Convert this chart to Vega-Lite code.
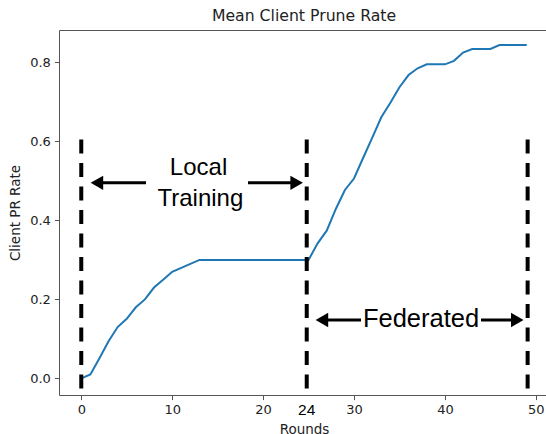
{
  "$schema": "https://vega.github.io/schema/vega-lite/v6.json",
  "width": 490,
  "height": 365,
  "autosize": "none",
  "padding": {"left": 59, "top": 30, "right": 0, "bottom": 39},
  "config": {
    "view": {"stroke": "#555", "strokeWidth": 1},
    "font": "DejaVu Sans",
    "axis": {
      "domain": false,
      "grid": false,
      "tickColor": "#555",
      "tickSize": 4.6,
      "labelPadding": 4,
      "labelFont": "DejaVu Sans",
      "labelFontSize": 13,
      "labelColor": "#222",
      "titleFont": "DejaVu Sans",
      "titleFontSize": 13.5,
      "titleFontWeight": "normal",
      "titleColor": "#222"
    }
  },
  "title": {
    "text": "Mean Client Prune Rate",
    "font": "DejaVu Sans",
    "fontSize": 15.7,
    "fontWeight": "normal",
    "color": "#222",
    "baseline": "bottom",
    "offset": 6,
    "dy": 16,
    "frame": "group",
    "anchor": "middle"
  },
  "datasets": {
    "series": [
      {"round": 0, "rate": 0.0}, {"round": 1, "rate": 0.01}, {"round": 2, "rate": 0.051},
      {"round": 3, "rate": 0.094}, {"round": 4, "rate": 0.13}, {"round": 5, "rate": 0.151},
      {"round": 6, "rate": 0.18}, {"round": 7, "rate": 0.2}, {"round": 8, "rate": 0.23},
      {"round": 9, "rate": 0.25}, {"round": 10, "rate": 0.27}, {"round": 11, "rate": 0.28},
      {"round": 12, "rate": 0.29}, {"round": 13, "rate": 0.3}, {"round": 14, "rate": 0.3},
      {"round": 15, "rate": 0.3}, {"round": 16, "rate": 0.3}, {"round": 17, "rate": 0.3},
      {"round": 18, "rate": 0.3}, {"round": 19, "rate": 0.3}, {"round": 20, "rate": 0.3},
      {"round": 21, "rate": 0.3}, {"round": 22, "rate": 0.3}, {"round": 23, "rate": 0.3},
      {"round": 24, "rate": 0.3}, {"round": 25, "rate": 0.3}, {"round": 26, "rate": 0.342},
      {"round": 27, "rate": 0.374}, {"round": 28, "rate": 0.429}, {"round": 29, "rate": 0.477},
      {"round": 30, "rate": 0.506}, {"round": 31, "rate": 0.558}, {"round": 32, "rate": 0.609},
      {"round": 33, "rate": 0.661}, {"round": 34, "rate": 0.698}, {"round": 35, "rate": 0.737},
      {"round": 36, "rate": 0.768}, {"round": 37, "rate": 0.785}, {"round": 38, "rate": 0.795},
      {"round": 39, "rate": 0.795}, {"round": 40, "rate": 0.795}, {"round": 41, "rate": 0.804},
      {"round": 42, "rate": 0.825}, {"round": 43, "rate": 0.834}, {"round": 44, "rate": 0.834},
      {"round": 45, "rate": 0.834}, {"round": 46, "rate": 0.844}, {"round": 47, "rate": 0.844},
      {"round": 48, "rate": 0.844}, {"round": 49, "rate": 0.844}
    ],
    "dividers": [
      {"round": 0, "top": 0.605, "bottom": -0.042},
      {"round": 24.8, "top": 0.605, "bottom": -0.042},
      {"round": 49.1, "top": 0.605, "bottom": -0.042}
    ],
    "shafts": [
      {"from": 1.72, "to": 7.12, "level": 0.495},
      {"from": 18.34, "to": 23.69, "level": 0.495},
      {"from": 26.47, "to": 30.77, "level": 0.148},
      {"from": 43.97, "to": 47.96, "level": 0.148}
    ],
    "heads": [
      {"round": 1.72, "level": 0.495, "dir": "triangle-left"},
      {"round": 23.69, "level": 0.495, "dir": "triangle-right"},
      {"round": 26.47, "level": 0.148, "dir": "triangle-left"},
      {"round": 47.96, "level": 0.148, "dir": "triangle-right"}
    ],
    "labels": [
      {"round": 12.9, "level": 0.515, "label": "Local", "size": 24},
      {"round": 13.1, "level": 0.436, "label": "Training", "size": 24},
      {"round": 37.37, "level": 0.13, "label": "Federated", "size": 25.5}
    ],
    "mark24": [
      {"round": 24.8, "level": -0.081, "label": "24"}
    ]
  },
  "layer": [
    {
      "data": {"name": "series"},
      "mark": {"type": "line", "color": "#1f77b4", "strokeWidth": 2},
      "encoding": {
        "x": {
          "field": "round", "type": "quantitative",
          "scale": {"domain": [-2.45, 51.45], "nice": false, "zero": false},
          "axis": {"values": [0, 10, 20, 30, 40, 50], "title": "Rounds", "titlePadding": 6, "labelFlush": false}
        },
        "y": {
          "field": "rate", "type": "quantitative",
          "scale": {"domain": [-0.042, 0.882], "nice": false, "zero": false},
          "axis": {"values": [0, 0.2, 0.4, 0.6, 0.8], "format": ".1f", "title": "Client PR Rate", "titlePadding": 7, "labelFlush": false}
        }
      }
    },
    {
      "data": {"name": "dividers"},
      "mark": {"type": "rule", "color": "black", "strokeWidth": 4, "strokeDash": [14, 9.5]},
      "encoding": {
        "x": {"field": "round", "type": "quantitative"},
        "y": {"field": "top", "type": "quantitative"},
        "y2": {"field": "bottom"}
      }
    },
    {
      "data": {"name": "shafts"},
      "mark": {"type": "rule", "color": "black", "strokeWidth": 3},
      "encoding": {
        "x": {"field": "from", "type": "quantitative"},
        "x2": {"field": "to"},
        "y": {"field": "level", "type": "quantitative"}
      }
    },
    {
      "data": {"name": "heads"},
      "mark": {"type": "point", "filled": true, "color": "black", "opacity": 1, "size": 210},
      "encoding": {
        "x": {"field": "round", "type": "quantitative"},
        "y": {"field": "level", "type": "quantitative"},
        "shape": {"field": "dir", "type": "nominal", "scale": null}
      }
    },
    {
      "data": {"name": "labels"},
      "mark": {"type": "text", "font": "Liberation Sans", "color": "black", "align": "center", "baseline": "alphabetic"},
      "encoding": {
        "x": {"field": "round", "type": "quantitative"},
        "y": {"field": "level", "type": "quantitative"},
        "text": {"field": "label"},
        "size": {"field": "size", "type": "quantitative", "scale": null}
      }
    },
    {
      "data": {"name": "mark24"},
      "mark": {"type": "text", "font": "Liberation Sans", "fontSize": 15.5, "color": "black", "align": "center", "baseline": "middle"},
      "encoding": {
        "x": {"field": "round", "type": "quantitative"},
        "y": {"field": "level", "type": "quantitative"},
        "text": {"field": "label"}
      }
    }
  ]
}
